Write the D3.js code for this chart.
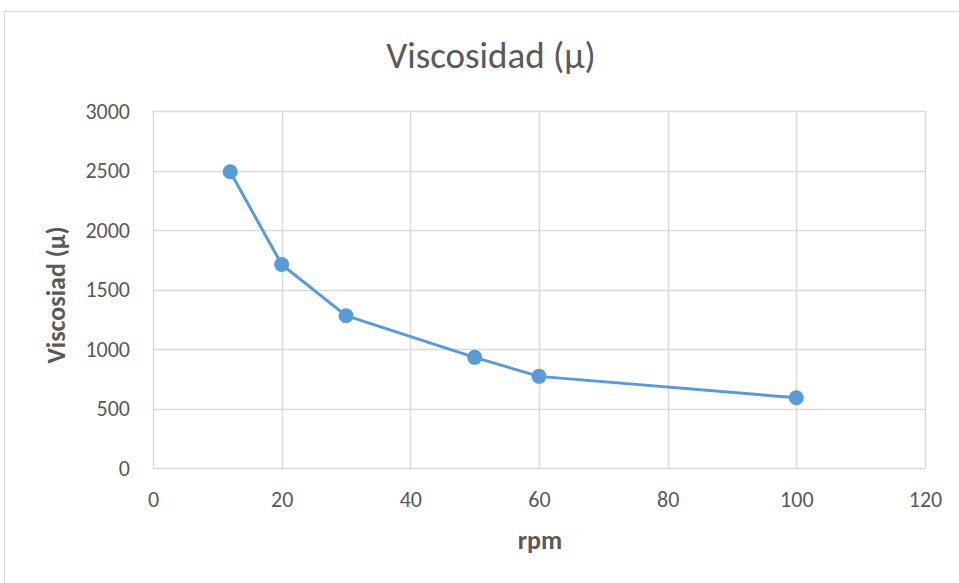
<!DOCTYPE html>
<html>
<head>
<meta charset="utf-8">
<script src="https://cdn.jsdelivr.net/npm/d3@7"></script>
<style>
        body { margin: 0; background: #fff; }
        text { font-family: Carlito, Calibri, "Open Sans", sans-serif; }
</style>
</head>
<body>
<svg id="chart" width="959" height="583"></svg>
<script>
// data
const rpm = [12, 20, 30, 50, 60, 100];
const viscosidad = [2490, 1710, 1280, 930, 770, 590];
const xTicks = [0, 20, 40, 60, 80, 100, 120];
const yTicks = [0, 500, 1000, 1500, 2000, 2500, 3000];

const svg = d3.select("#chart");
const textColour = "#595959";
const gridColour = "#d9d9d9";
const lineColour = "#5b9bd5";

// outer chart border (runs off the right and bottom)
svg.append("rect")
        .attr("x", 4.5)
        .attr("y", 11.5)
        .attr("width", 980)
        .attr("height", 600)
        .attr("fill", "none")
        .attr("stroke", gridColour);

const plotLeft = 153, plotRight = 925, plotTop = 111, plotBottom = 468;

const x = d3.scaleLinear().domain([0, 120]).range([plotLeft, plotRight]);
const y = d3.scaleLinear().domain([0, 3000]).range([plotBottom, plotTop]);

// gridlines
svg.append("g")
        .selectAll("line")
        .data(yTicks)
        .join("line")
        .attr("x1", plotLeft).attr("x2", plotRight)
        .attr("y1", d => Math.round(y(d)) + 0.5)
        .attr("y2", d => Math.round(y(d)) + 0.5)
        .attr("stroke", gridColour)
        .attr("stroke-width", 1.5);

svg.append("g")
        .selectAll("line")
        .data(xTicks)
        .join("line")
        .attr("y1", plotTop).attr("y2", plotBottom)
        .attr("x1", d => Math.round(x(d)) + 0.5)
        .attr("x2", d => Math.round(x(d)) + 0.5)
        .attr("stroke", gridColour)
        .attr("stroke-width", 1.5);

// axes (labels only, the lines are the grid)
const xAxis = svg.append("g")
        .attr("transform", `translate(0,${plotBottom})`)
        .call(d3.axisBottom(x).tickValues(xTicks).tickFormat(d3.format("d"))
                .tickSize(0).tickPadding(23));
xAxis.select(".domain").remove();
xAxis.selectAll("text")
        .attr("fill", textColour)
        .attr("font-size", "22px");

const yAxis = svg.append("g")
        .attr("transform", `translate(${plotLeft},0)`)
        .call(d3.axisLeft(y).tickValues(yTicks).tickFormat(d3.format("d"))
                .tickSize(0).tickPadding(23));
yAxis.select(".domain").remove();
yAxis.selectAll("text")
        .attr("fill", textColour)
        .attr("font-size", "22px");

// series
const points = rpm.map((r, i) => [r, viscosidad[i]]);

svg.append("path")
        .datum(points)
        .attr("fill", "none")
        .attr("stroke", lineColour)
        .attr("stroke-width", 3)
        .attr("stroke-linejoin", "round")
        .attr("d", d3.line().x(d => x(d[0])).y(d => y(d[1])));

svg.append("g")
        .selectAll("circle")
        .data(points)
        .join("circle")
        .attr("cx", d => x(d[0]))
        .attr("cy", d => y(d[1]))
        .attr("r", 7.5)
        .attr("fill", lineColour);

// titles
svg.append("text")
        .attr("x", 491)
        .attr("y", 68)
        .attr("text-anchor", "middle")
        .attr("fill", textColour)
        .attr("font-size", "37px")
        .text("Viscosidad (μ)");

svg.append("text")
        .attr("x", 540)
        .attr("y", 549)
        .attr("text-anchor", "middle")
        .attr("fill", textColour)
        .attr("font-size", "26px")
        .attr("font-weight", "bold")
        .text("rpm");

svg.append("text")
        .attr("transform", "translate(65,295) rotate(-90)")
        .attr("text-anchor", "middle")
        .attr("fill", textColour)
        .attr("font-size", "26px")
        .attr("font-weight", "bold")
        .text("Viscosiad (μ)");
</script>
</body>
</html>
